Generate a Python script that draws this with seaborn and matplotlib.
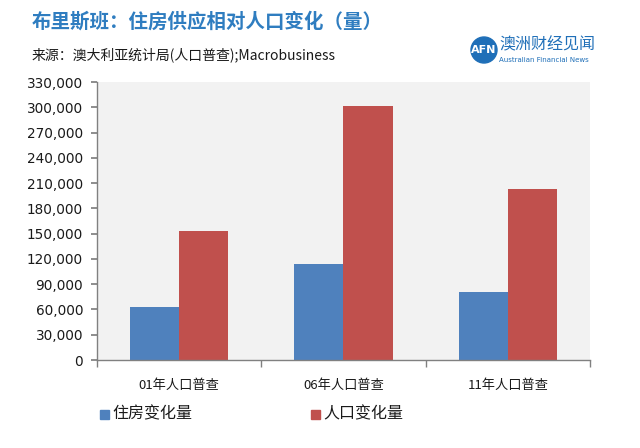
import matplotlib
matplotlib.use("Agg")
import matplotlib.pyplot as plt
import seaborn as sns
import pandas as pd
from matplotlib.patches import Circle, Rectangle
from matplotlib.ticker import FuncFormatter, MultipleLocator

categories = ["01年人口普查", "06年人口普查", "11年人口普查"]
series_names = ["住房变化量", "人口变化量"]
housing = [63000, 114500, 81000]
population = [153000, 301000, 203500]
title = "布里斯班：住房供应相对人口变化（量）"
subtitle = "来源：澳大利亚统计局(人口普查);Macrobusiness"

sns.set_theme(style="white")
plt.rcParams['font.family'] = ['Noto Sans CJK SC', 'DejaVu Sans']

df = pd.DataFrame({
    "cat": categories * 2,
    "series": [series_names[0]] * 3 + [series_names[1]] * 3,
    "value": housing + population,
})

colors = ["#4F81BD", "#C0504D"]
fig = plt.figure(figsize=(6.4, 4.48), dpi=100)
fig.patch.set_facecolor("white")
ax = fig.add_axes([97/640, 1-360/448, (590-97)/640, (360-82)/448])
sns.barplot(data=df, x="cat", y="value", hue="series", palette=colors,
            width=0.6, gap=0, ax=ax, legend=False, saturation=1, linewidth=0)
ax.set_facecolor("#F2F2F2")
ax.set_ylim(0, 330000)
ax.set_xlim(-0.5, 2.5)
ax.yaxis.set_major_locator(MultipleLocator(30000))
ax.yaxis.set_major_formatter(FuncFormatter(lambda v, p: f"{int(v):,}"))
ax.set_xlabel("")
ax.set_ylabel("")
for s in ["top", "right"]:
    ax.spines[s].set_visible(False)
for s in ["left", "bottom"]:
    ax.spines[s].set_color("#808080")
    ax.spines[s].set_linewidth(1.0)
ax.tick_params(axis="y", which="both", left=True, length=4, color="#808080",
               labelsize=9.8, labelcolor="#1a1a1a", pad=6)
for lab in ax.get_yticklabels():
    lab.set_family("DejaVu Sans")
ax.set_xticks([0, 1, 2])
ax.set_xticklabels(categories, fontsize=9.5, color="#1a1a1a")
ax.tick_params(axis="x", which="major", bottom=False, pad=8)
ax.set_xticks([-0.5, 0.5, 1.5, 2.5], minor=True)
ax.tick_params(axis="x", which="minor", bottom=True, length=5, color="#808080")
ax.grid(False)

# titles
fig.text(32/640, 1-22/448, title, fontsize=14, color="#2F7DC0",
         fontweight="bold", va="center", ha="left")
fig.text(32/640, 1-55/448, subtitle, fontsize=10, color="#1a1a1a",
         va="center", ha="left")

# logo
circ = Circle((484, 448-50), 13, transform=None, color="#1F6FB8")
fig.patches.append(circ)
fig.text(484/640, 1-50/448, "AFN", fontsize=8, color="white", fontweight="bold",
         ha="center", va="center", family="DejaVu Sans")
fig.text(499/640, 1-45/448, "澳洲财经见闻", fontsize=11.5, color="#1F6FB8",
         ha="left", va="center")
fig.text(499/640, 1-60/448, "Australian Financial News", fontsize=5, color="#1F6FB8",
         ha="left", va="center", family="DejaVu Sans")

# legend
for x0, name, c in [(100, series_names[0], colors[0]), (311, series_names[1], colors[1])]:
    fig.patches.append(Rectangle((x0, 448-419), 9, 9, transform=None, color=c))
    fig.text((x0+12)/640, 1-414/448, name, fontsize=11.5, color="#1a1a1a",
             ha="left", va="center")

fig.savefig("out.png", dpi=100, facecolor="white")
